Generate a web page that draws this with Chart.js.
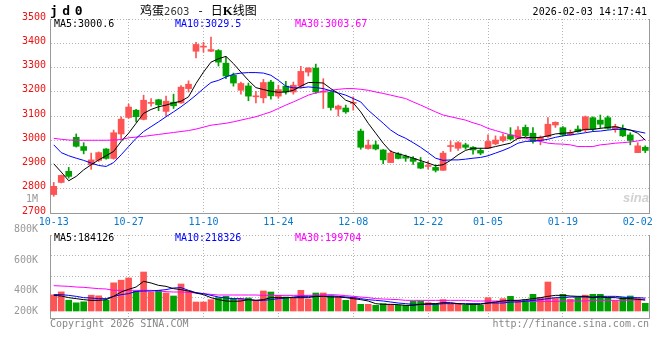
<!DOCTYPE html>
<html><head><meta charset="utf-8">
<script src="https://cdn.jsdelivr.net/npm/chart.js@4.4.1/dist/chart.umd.min.js"></script>
<style>
html,body{margin:0;padding:0;background:#fff;}
#wrap{position:relative;width:660px;height:360px;overflow:hidden;font-family:'DejaVu Sans Mono',monospace;font-size:10px;}
canvas{position:absolute;left:0;top:0;}
.t{position:absolute;white-space:nowrap;line-height:12px;font-size:10px;font-family:'DejaVu Sans Mono',monospace;z-index:5;}
</style></head>
<body>
<div id="wrap">
<canvas id="main" width="660" height="360"></canvas>
<canvas id="vol" width="660" height="360"></canvas>
<div class="t" style="left:50px;top:4px;font-weight:bold;font-size:13px;line-height:13px;letter-spacing:4.5px;">jd0</div>
<div class="t" style="left:140px;top:4px;font-family:'Noto Sans CJK SC';font-size:12px;line-height:12px;color:#000;">鸡蛋<span style="font-family:'DejaVu Sans';font-size:10px;color:#333;">2603</span><span style="margin:0 8px 0 9px;">-</span>日<b style="font-family:'Liberation Serif';font-size:13px;">K</b>线图</div>
<div class="t" id="clock" style="right:13px;top:6px;color:#000;">2026-02-03 14:17:41</div>
<div class="t" id="lg5" style="left:54px;top:18px;color:#000;"></div>
<div class="t" id="lg10" style="left:175px;top:18px;color:#0000ff;"></div>
<div class="t" id="lg30" style="left:295px;top:18px;color:#ff00ff;"></div>
<div class="t" id="vlg5" style="left:54px;top:232px;color:#000;"></div>
<div class="t" id="vlg10" style="left:175px;top:232px;color:#0000ff;"></div>
<div class="t" id="vlg30" style="left:295px;top:232px;color:#ff00ff;"></div>
<div class="t" style="left:50px;top:318px;color:#888;">Copyright 2026 SINA.COM</div>
<div class="t" style="right:11px;top:318px;color:#888;">http://finance.sina.com.cn</div>
<div class="t" style="right:11px;top:191px;font-family:'Liberation Sans';font-style:italic;font-weight:bold;font-size:13px;line-height:13px;color:#d2d2d2;">sina</div>
</div>
<script>
const dates = ['10-13','10-14','10-15','10-16','10-17','10-20','10-21','10-22','10-23','10-24',
 '10-27','10-28','10-29','10-30','10-31','11-03','11-04','11-05','11-06','11-07',
 '11-10','11-11','11-12','11-13','11-14','11-17','11-18','11-19','11-20','11-21',
 '11-24','11-25','11-26','11-27','11-28','12-01','12-02','12-03','12-04','12-05',
 '12-08','12-09','12-10','12-11','12-12','12-15','12-16','12-17','12-18','12-19',
 '12-22','12-23','12-24','12-25','12-26','12-29','12-30','12-31','01-05','01-06',
 '01-07','01-08','01-09','01-12','01-13','01-14','01-15','01-16','01-19','01-20',
 '01-21','01-22','01-23','01-26','01-27','01-28','01-29','01-30','02-02','02-03'];
const tickLabels = ['10-13','10-27','11-10','11-24','12-08','12-22','01-05','01-19','02-02'];

const opens = [2776,2826,2872,3012,2974,2899,2917,2964,2925,3026,
 3094,3124,3086,3152,3167,3119,3157,3154,3213,3367,
 3384,3367,3370,3318,3268,3206,3224,3179,3175,3240,
 3182,3223,3199,3223,3281,3298,3198,3199,3128,3133,
 3152,3038,2966,2981,2960,2908,2944,2933,2925,2908,
 2892,2888,2876,2974,2967,2981,2971,2958,2967,2985,
 2999,3022,3008,3053,3029,2999,3015,3063,3052,3022,
 3046,3042,3093,3083,3093,3046,3049,3022,2949,2971];
const highs = [2826,2857,2888,3026,2990,2947,2952,2966,3042,3097,
 3149,3128,3186,3172,3169,3182,3190,3225,3245,3404,
 3404,3425,3374,3343,3277,3240,3236,3202,3251,3247,
 3227,3243,3240,3305,3299,3314,3254,3201,3145,3145,
 3179,3046,3001,2997,2962,2958,2949,2939,2933,2929,
 2913,2899,2954,2997,2995,2988,2974,2967,3022,3018,
 3026,3052,3056,3063,3052,3018,3093,3076,3056,3042,
 3059,3100,3097,3104,3100,3066,3063,3031,2990,2977];
const lows = [2769,2824,2844,2972,2944,2880,2912,2922,2922,3004,
 3090,3076,3084,3141,3122,3101,3131,3152,3199,3339,
 3363,3365,3306,3254,3223,3190,3163,3154,3154,3169,
 3173,3190,3190,3216,3265,3193,3131,3124,3100,3111,
 3124,2963,2963,2960,2903,2908,2923,2913,2900,2883,
 2881,2869,2876,2954,2958,2963,2943,2940,2967,2981,
 2993,3001,3005,3015,2988,2981,3012,3053,3018,3020,
 3033,3035,3040,3049,3046,3033,3015,2981,2949,2949];
const closes = [2810,2855,2851,2975,2958,2919,2949,2925,3031,3087,
 3137,3097,3165,3156,3146,3161,3142,3219,3231,3395,
 3388,3374,3322,3265,3236,3234,3182,3182,3238,3183,
 3209,3199,3227,3284,3298,3199,3202,3135,3141,3117,
 3156,2971,2980,2964,2919,2947,2925,2926,2913,2885,
 2895,2876,2947,2978,2990,2971,2960,2947,2995,3001,
 3015,3005,3042,3019,2995,3012,3066,3074,3022,3031,
 3035,3097,3046,3066,3049,3056,3018,2999,2977,2958];

const ma5 = [2903,2869,2833,2851,2878,2899,2919,2936,2954,2995,
 3029,3070,3111,3127,3138,3145,3154,3161,3179,3234,
 3281,3322,3336,3346,3316,3281,3247,3217,3209,3202,
 3198,3199,3206,3223,3238,3238,3236,3213,3193,3165,
 3154,3117,3070,3029,2988,2954,2944,2936,2926,2916,
 2906,2895,2899,2917,2940,2958,2967,2967,2967,2974,
 2981,2988,3008,3012,3011,3012,3018,3026,3029,3031,
 3038,3045,3045,3049,3053,3056,3049,3042,3029,3000.6];
const ma10 = [2981,2949,2936,2926,2917,2906,2896,2892,2908,2940,
 2974,3008,3036,3056,3076,3097,3117,3138,3161,3186,
 3213,3238,3247,3261,3272,3277,3279,3279,3277,3268,
 3247,3223,3216,3216,3220,3217,3213,3204,3195,3186,
 3172,3158,3124,3097,3070,3042,3022,3008,2990,2971,
 2949,2926,2917,2919,2919,2922,2926,2929,2936,2947,
 2958,2971,2988,2995,2997,2999,3004,3012,3018,3022,
 3026,3031,3036,3038,3042,3045,3045,3042,3036,3029.5];
const ma30 = [3008,3004,3001,3000,3000,3000,3000,3000,3001,3003,
 3010,3013,3016,3020,3024,3028,3032,3036,3040,3046,
 3054,3062,3066,3070,3076,3083,3090,3097,3107,3117,
 3131,3145,3158,3172,3186,3195,3202,3206,3210,3213,
 3213,3210,3206,3199,3193,3186,3179,3172,3158,3145,
 3131,3117,3104,3097,3090,3083,3072,3063,3049,3040,
 3031,3022,3015,3008,3001,2995,2988,2985,2984,2981,
 2974,2974,2974,2981,2984,2988,2990,2993,2997,3003.67];

const volumes = [275000,325000,184000,139000,156000,269000,258000,184000,479000,524000,
 561000,334000,663000,323000,351000,306000,255000,459000,340000,153000,
 153000,193000,227000,249000,210000,210000,221000,181000,340000,323000,
 266000,238000,227000,351000,204000,306000,306000,255000,238000,181000,
 238000,113000,113000,96000,125000,113000,96000,96000,164000,170000,
 142000,125000,193000,125000,125000,96000,113000,96000,227000,153000,
 210000,249000,181000,193000,283000,230000,493000,213000,283000,198000,
 230000,269000,283000,283000,230000,176000,230000,255000,213000,130000];
const volMa5 = [266000,255000,227000,210000,193000,181000,181000,193000,249000,323000,
 368000,408000,504000,476000,436000,419000,380000,363000,340000,306000,
 278000,227000,193000,170000,164000,170000,193000,181000,193000,227000,
 227000,227000,227000,227000,227000,249000,249000,238000,238000,227000,
 210000,193000,170000,125000,113000,113000,108000,96000,96000,113000,
 125000,125000,142000,142000,125000,113000,113000,113000,136000,153000,
 170000,181000,181000,193000,210000,227000,249000,266000,266000,255000,
 249000,249000,227000,238000,227000,227000,210000,210000,198000,184126];
const volMa10 = [278000,278000,266000,249000,227000,221000,210000,210000,249000,278000,
 295000,334000,340000,340000,351000,363000,391000,397000,351000,312000,
 295000,266000,238000,221000,210000,210000,193000,181000,181000,193000,
 210000,221000,238000,249000,249000,249000,249000,255000,249000,238000,
 227000,210000,193000,181000,170000,153000,136000,125000,113000,113000,
 113000,113000,125000,125000,125000,125000,125000,125000,136000,136000,
 136000,153000,153000,164000,181000,193000,210000,227000,227000,238000,
 238000,238000,238000,249000,249000,249000,238000,227000,227000,218326];
const volMa30 = [431000,425000,419000,408000,402000,391000,380000,374000,351000,351000,
 351000,351000,351000,351000,340000,329000,323000,323000,317000,306000,
 295000,283000,272000,272000,272000,272000,272000,272000,266000,266000,
 266000,266000,266000,266000,266000,270000,274000,278000,272000,261000,
 249000,238000,227000,210000,204000,198000,193000,181000,181000,181000,
 181000,181000,181000,181000,181000,181000,170000,170000,170000,170000,
 170000,170000,170000,164000,164000,164000,164000,164000,170000,170000,
 170000,170000,181000,181000,181000,181000,181000,185000,190000,199704];
const volTickLabels = ['200K','400K','600K','800K','1M'];
const volTickValues = [200000,400000,600000,800000,1000000];

const RED = '#ff5454', GREEN = '#00a000';
const GRID = '#b4b4b4', BORDER = '#999999';
const upColor = i => closes[i] >= opens[i] ? RED : GREEN;
const barColor = c => upColor(c.dataIndex);
const last = a => a[a.length - 1];

document.getElementById('lg5').textContent = 'MA5:' + last(ma5);
document.getElementById('lg10').textContent = 'MA10:' + last(ma10);
document.getElementById('lg30').textContent = 'MA30:' + last(ma30);
document.getElementById('vlg5').textContent = 'MA5:' + last(volMa5);
document.getElementById('vlg10').textContent = 'MA10:' + last(volMa10);
document.getElementById('vlg30').textContent = 'MA30:' + last(volMa30);

Chart.defaults.font.family = "'DejaVu Sans Mono', monospace";
Chart.defaults.font.size = 10;

const xTicks = s => { s.ticks = tickLabels.map(l => ({ value: dates.indexOf(l) })); };
const xGridColor = c => (c.index === 0 || c.index === tickLabels.length - 1) ? 'rgba(0,0,0,0)' : GRID;

const lineDs = (data, color, order, yID) => ({
  type: 'line', data, borderColor: color, borderWidth: 1, pointRadius: 0,
  tension: 0, fill: false, order, yAxisID: yID
});

new Chart(document.getElementById('main'), {
  type: 'bar',
  data: {
    labels: dates,
    datasets: [
      { data: lows.map((l, i) => [l, highs[i]]), backgroundColor: barColor, barThickness: 1,
        grouped: false, order: 4, yAxisID: 'y' },
      { data: opens.map((o, i) => [o, closes[i]]), backgroundColor: barColor, barThickness: 6,
        minBarLength: 1, grouped: false, order: 3, yAxisID: 'y' },
      lineDs(ma30, '#ff00ff', 2, 'y'),
      lineDs(ma10, '#0000ff', 1, 'y'),
      lineDs(ma5, '#000000', 0, 'y')
    ]
  },
  options: {
    responsive: false, animation: false, devicePixelRatio: 1, events: [],
    layout: { padding: { top: 19, left: 0, right: 11, bottom: 127 } },
    plugins: { legend: { display: false }, tooltip: { enabled: false } },
    scales: {
      x: {
        type: 'category', offset: true,
        afterBuildTicks: xTicks,
        afterFit: s => { s.height = 20; },
        grid: { offset: false, drawTicks: false, color: xGridColor },
        border: { display: true, color: BORDER, dash: [1, 2] },
        ticks: { autoSkip: false, maxRotation: 0, padding: 3, color: '#0a78cc', font: { size: 10 } }
      },
      y: {
        position: 'left', min: 2700, max: 3500,
        afterFit: s => { s.width = 50; },
        grid: { drawTicks: false, color: GRID },
        border: { display: true, color: BORDER, dash: [1, 2] },
        ticks: { stepSize: 100, padding: 4, labelOffset: -2, color: '#ee1111', font: { size: 10 },
                 callback: v => String(v) }
      },
      y2: {
        position: 'right', min: 0, max: 1,
        afterFit: s => { s.width = 0; },
        grid: { display: false },
        border: { display: true, color: BORDER },
        ticks: { display: false }
      }
    }
  }
});

new Chart(document.getElementById('vol'), {
  type: 'bar',
  data: {
    labels: dates,
    datasets: [
      { data: volumes, backgroundColor: barColor, barThickness: 6, grouped: false, order: 3, yAxisID: 'y' },
      lineDs(volMa30, '#ff00ff', 2, 'y'),
      lineDs(volMa10, '#0000ff', 1, 'y'),
      lineDs(volMa5, '#000000', 0, 'y')
    ]
  },
  options: {
    responsive: false, animation: false, devicePixelRatio: 1, events: [],
    layout: { padding: { top: 235, left: 0, right: 11, bottom: 42 } },
    plugins: { legend: { display: false }, tooltip: { enabled: false } },
    scales: {
      x: {
        type: 'category', offset: true,
        afterBuildTicks: xTicks,
        afterFit: s => { s.height = 0; },
        grid: { offset: false, drawTicks: false, color: xGridColor },
        border: { display: true, color: BORDER, dash: [1, 2] },
        ticks: { display: false, autoSkip: false }
      },
      y: {
        position: 'left', weight: 0, min: -119000, max: 1292000, bounds: 'data',
        afterFit: s => { s.width = 0; },
        grid: { drawTicks: false, color: GRID },
        border: { display: true, color: BORDER, dash: [1, 2] },
        ticks: { display: false, count: 5 }
      },
      yl: {
        position: 'left', weight: 1, min: 221000, max: 765000, bounds: 'data',
        afterFit: s => { s.width = 50; },
        afterBuildTicks: s => { s.ticks = volTickValues.map(v => ({ value: Math.max(v, 267000) })); },
        grid: { display: false },
        border: { display: false },
        ticks: { autoSkip: false, padding: 4, color: '#999999', font: { size: 10 },
                 callback: (v, i) => volTickLabels[i] }
      },
      y2: {
        position: 'right', min: 0, max: 1,
        afterFit: s => { s.width = 0; },
        grid: { display: false },
        border: { display: true, color: BORDER },
        ticks: { display: false }
      }
    }
  }
});
</script>
</body></html>
